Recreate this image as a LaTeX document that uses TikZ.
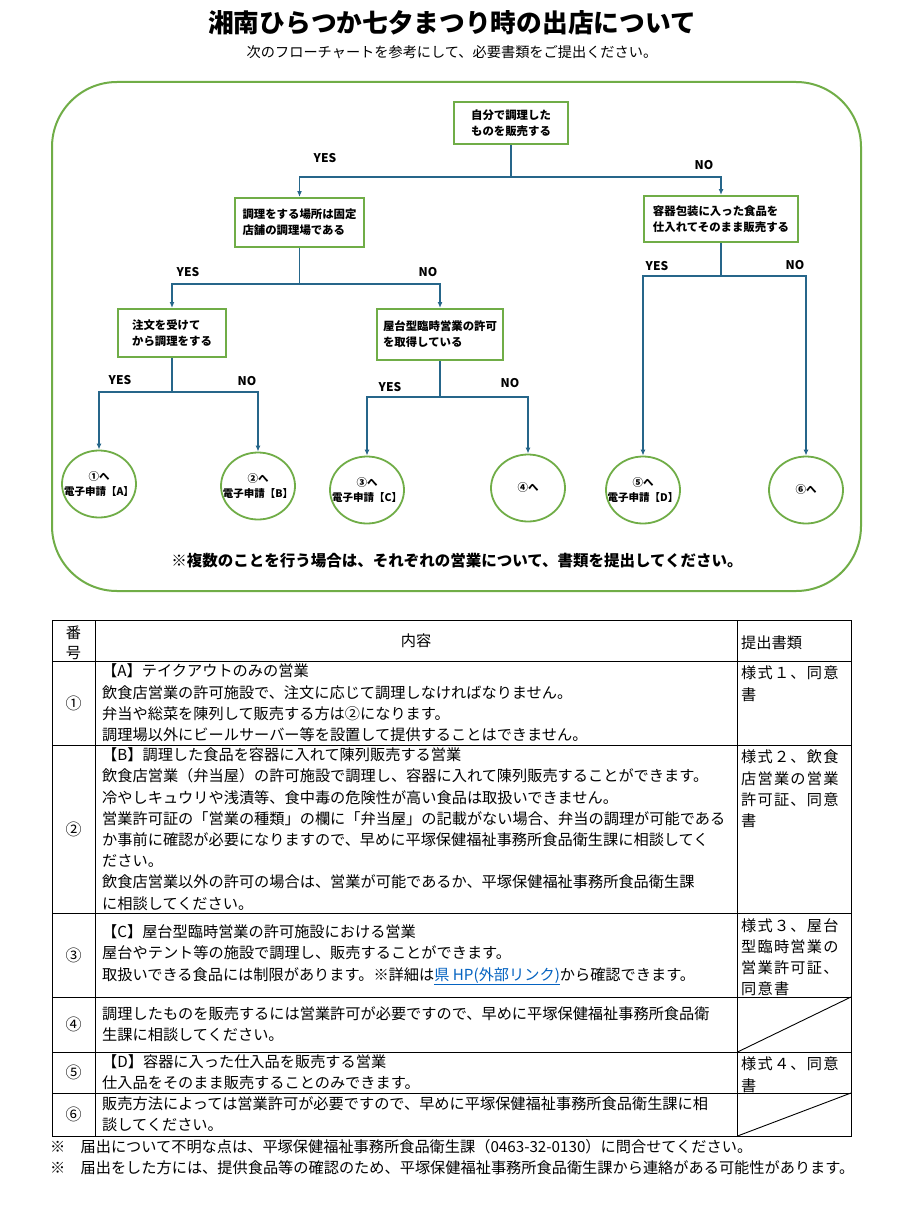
\documentclass[tikz,border=0pt]{standalone}
\usepackage{fontspec}
\setmainfont{Noto Sans CJK JP}
\usepackage{tikz}
\usepackage{xcolor}
\usetikzlibrary{arrows.meta, positioning, shapes.geometric, calc}
\definecolor{framegreen}{RGB}{112, 173, 71}
\definecolor{arrowblue}{RGB}{38, 102, 138}
\definecolor{linkblue}{RGB}{5, 99, 193}

\begin{document}
\begin{tikzpicture}[
    x=1pt, y=-1pt,
    qbox/.style={rectangle, draw=framegreen, line width=2pt, fill=white, align=left, inner sep=0pt, font=\fontsize{11.4}{16}\selectfont\bfseries},
    goal/.style={ellipse, draw=framegreen, line width=1.8pt, fill=white, minimum width=74pt, minimum height=67pt, inner xsep=-10pt, inner ysep=0pt, align=center, font=\fontsize{10.5}{15}\selectfont\bfseries},
    yn/.style={font=\fontsize{12}{12}\selectfont\bfseries},
    stem/.style={line width=1.4pt, arrowblue},
    arrow/.style={-{Latex[length=6pt, width=5pt]}, line width=1.4pt, arrowblue},
    grid/.style={line width=0.9pt, black},
    cell/.style={anchor=west, align=left, inner sep=0pt, font=\fontsize{15.2}{21.2}\selectfont},
    doc/.style={anchor=north west, align=left, inner sep=0pt, font=\fontsize{15.2}{21.2}\selectfont\addfontfeature{LetterSpace=8}},
    num/.style={font=\fontsize{16}{16}\selectfont}
]
\useasboundingbox (0,0) rectangle (902,1212);
\fill[white] (0,0) rectangle (902,1212);

% Title
\node[font=\fontsize{25.7}{28}\selectfont\bfseries] (title) at (452,23) {湘南ひらつか七夕まつり時の出店について};
\node[font=\fontsize{14.2}{16}\selectfont] (subtitle) at (452,52) {次のフローチャートを参考にして、必要書類をご提出ください。};

% Frame
\draw[framegreen, line width=2pt, rounded corners=65pt] (52,82) rectangle (861,591);

% Questions
\node[qbox, minimum width=114pt, minimum height=42pt] (q1) at (511,123) {自分で調理した\\ものを販売する};
\node[qbox, minimum width=129pt, minimum height=49pt] (q2) at (299.5,222.5) {調理をする場所は固定\\店舗の調理場である};
\node[qbox, minimum width=154pt, minimum height=46pt] (q3) at (721,219) {容器包装に入った食品を\\仕入れてそのまま販売する};
\node[qbox, minimum width=108pt, minimum height=48pt] (q4) at (172,333) {注文を受けて\\から調理をする};
\node[qbox, minimum width=126pt, minimum height=51pt] (q5) at (440,334.5) {屋台型臨時営業の許可\\を取得している};

% Goals
\node[goal] (e1) at (99,484) {①へ\\電子申請【A】};
\node[goal] (e2) at (258,486) {②へ\\電子申請【B】};
\node[goal] (e3) at (367,490) {③へ\\電子申請【C】};
\node[goal] (e4) at (528,488) {④へ};
\node[goal] (e5) at (643,490) {⑤へ\\電子申請【D】};
\node[goal] (e6) at (806,490) {⑥へ};

% Branches
\coordinate (j1) at (511,177);
\coordinate (j2) at (299.5,284);
\coordinate (j3) at (721,276);
\coordinate (j4) at (172,392);
\coordinate (j5) at (440,397);

\draw[stem] (q1.south) -- (j1);
\draw[arrow] (j1) -| (q2.north);
\draw[arrow] (j1) -| (q3.north);

\draw[stem] (q2.south) -- (j2);
\draw[arrow] (j2) -| (q4.north);
\draw[arrow] (j2) -| (q5.north);

\draw[stem] (q3.south) -- (j3);
\draw[arrow] (j3) -| (e5.north);
\draw[arrow] (j3) -| (e6.north);

\draw[stem] (q4.south) -- (j4);
\draw[arrow] (j4) -| (e1.north);
\draw[arrow] (j4) -| (e2.north);

\draw[stem] (q5.south) -- (j5);
\draw[arrow] (j5) -| (e3.north);
\draw[arrow] (j5) -| (e4.north);

% YES / NO labels
\node[yn] (y1) at (325,158) {YES};
\node[yn] (n1) at (704,165) {NO};
\node[yn] (y2) at (188,272) {YES};
\node[yn] (n2) at (428,272) {NO};
\node[yn] (y3) at (657,266) {YES};
\node[yn] (n3) at (795,265) {NO};
\node[yn] (y4) at (120,380) {YES};
\node[yn] (n4) at (247,381) {NO};
\node[yn] (y5) at (390,387) {YES};
\node[yn] (n5) at (510,383) {NO};

% Note
\node[font=\fontsize{15.5}{17}\selectfont\bfseries] (note) at (457,561) {※複数のことを行う場合は、それぞれの営業について、書類を提出してください。};

% Table grid
\draw[grid] (52,620) rectangle (851,1136);
\foreach \y in {661,745,913,997,1052,1093}
    \draw[grid] (52,\y) -- (851,\y);
\foreach \x in {95,737.5}
    \draw[grid] (\x,620) -- (\x,1136);
\draw[grid] (737.5,1052) -- (851,997);
\draw[grid] (737.5,1136) -- (851,1093);

% Header
\node[align=center, font=\fontsize{15.2}{20}\selectfont] (hnum) at (73.5,643) {番\\号};
\node[font=\fontsize{15.2}{20}\selectfont] (hbody) at (416,641) {内容};
\node[cell] (hdoc) at (741,643) {提出書類};

% Numbers
\node[num] (r1) at (73.5,703) {①};
\node[num] (r2) at (73.5,829) {②};
\node[num] (r3) at (73.5,955) {③};
\node[num] (r4) at (73.5,1024.5) {④};
\node[num] (r5) at (73.5,1072.5) {⑤};
\node[num] (r6) at (73.5,1114.5) {⑥};

% Contents
\node[cell] (c1) at (102,703) {【A】テイクアウトのみの営業\\
    飲食店営業の許可施設で、注文に応じて調理しなければなりません。\\
    弁当や総菜を陳列して販売する方は②になります。\\
    調理場以外にビールサーバー等を設置して提供することはできません。};
\node[cell] (c2) at (102,829) {【B】調理した食品を容器に入れて陳列販売する営業\\
    飲食店営業（弁当屋）の許可施設で調理し、容器に入れて陳列販売することができます。\\
    冷やしキュウリや浅漬等、食中毒の危険性が高い食品は取扱いできません。\\
    営業許可証の「営業の種類」の欄に「弁当屋」の記載がない場合、弁当の調理が可能である\\
    か事前に確認が必要になりますので、早めに平塚保健福祉事務所食品衛生課に相談してく\\
    ださい。\\
    飲食店営業以外の許可の場合は、営業が可能であるか、平塚保健福祉事務所食品衛生課\\
    に相談してください。};
\node[cell] (c3) at (102,955) {【C】屋台型臨時営業の許可施設における営業\\
    屋台やテント等の施設で調理し、販売することができます。\\
    取扱いできる食品には制限があります。※詳細は{\color{linkblue}\underline{県 HP(外部リンク)}}から確認できます。};
\node[cell] (c4) at (102,1024.5) {調理したものを販売するには営業許可が必要ですので、早めに平塚保健福祉事務所食品衛\\
    生課に相談してください。};
\node[cell] (c5) at (102,1072.5) {【D】容器に入った仕入品を販売する営業\\
    仕入品をそのまま販売することのみできます。};
\node[cell] (c6) at (102,1114.5) {販売方法によっては営業許可が必要ですので、早めに平塚保健福祉事務所食品衛生課に相\\
    談してください。};

% Documents
\node[doc] (d1) at (741,666) {様式１、同意\\書};
\node[doc] (d2) at (741,750) {様式２、飲食\\店営業の営業\\許可証、同意\\書};
\node[doc] (d3) at (741,918) {様式３、屋台\\型臨時営業の\\営業許可証、\\同意書};
\node[doc] (d5) at (741,1057) {様式４、同意\\書};

% Footnotes
\node[cell] (f1) at (50,1147) {※　届出について不明な点は、平塚保健福祉事務所食品衛生課（0463-32-0130）に問合せてください。};
\node[cell] (f2) at (50,1168) {※　届出をした方には、提供食品等の確認のため、平塚保健福祉事務所食品衛生課から連絡がある可能性があります。};

\end{tikzpicture}
\end{document}
